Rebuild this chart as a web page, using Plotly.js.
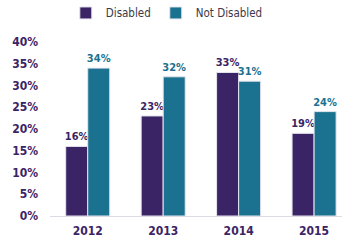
<!DOCTYPE html>
<html><head><meta charset="utf-8">
<script src="https://cdn.plot.ly/plotly-3.0.1.min.js"></script>
<style>html,body{margin:0;padding:0;background:#fff}#c{width:344px;height:240px}</style>
</head><body><div id="c"></div>
<script>
var years = ["2012", "2013", "2014", "2015"];
var disabled = [16, 23, 33, 19];
var notDisabled = [34, 32, 31, 24];
var yTicks = [0, 5, 10, 15, 20, 25, 30, 35, 40];

var FONT = "DejaVu Sans Condensed, Arial Narrow, sans-serif";
var PURPLE = "#3b2465";
var TEAL = "#1b7290";

function trace(name, vals, color) {
  return {
    type: "bar", name: name, x: years, y: vals,
    marker: {color: color, line: {color: "#e6e6ee", width: 1}},
    text: vals.map(function(v){return v + "%";}),
    textposition: "outside", cliponaxis: false, constraintext: "none",
    textfont: {family: FONT, size: 11, color: color, weight: "bold"}
  };
}

var data = [trace("Disabled", disabled, PURPLE), trace("Not Disabled", notDisabled, TEAL)];
var layout = {
  width: 344, height: 240,
  margin: {l: 50, r: 2, t: 42, b: 24, autoexpand: false},
  barmode: "group", bargap: 0.416, bargroupgap: 0,
  showlegend: true,
  legend: {orientation: "h", x: 0.40, xanchor: "center", xref: "paper", y: 1.167, yanchor: "middle", yref: "paper",
           font: {family: FONT, size: 11.5, color: "#3a3a4c"}, traceorder: "normal"},
  xaxis: {type: "category", range: [-0.5, 3.37], showline: true, linecolor: "#dcdce4", linewidth: 1,
          ticks: "", ticklabelstandoff: 4,
          tickfont: {family: FONT, size: 12, color: PURPLE, weight: "bold"}, showgrid: false},
  yaxis: {range: [0, 40], tickvals: yTicks, ticktext: yTicks.map(function(v){return v + "%";}),
          showgrid: false, zeroline: false, ticks: "", ticklabelstandoff: 11,
          tickfont: {family: FONT, size: 12, color: PURPLE, weight: "bold"}},
  plot_bgcolor: "#fff", paper_bgcolor: "#fff"
};
Plotly.newPlot("c", data, layout, {displayModeBar: false, staticPlot: true});
</script></body></html>
